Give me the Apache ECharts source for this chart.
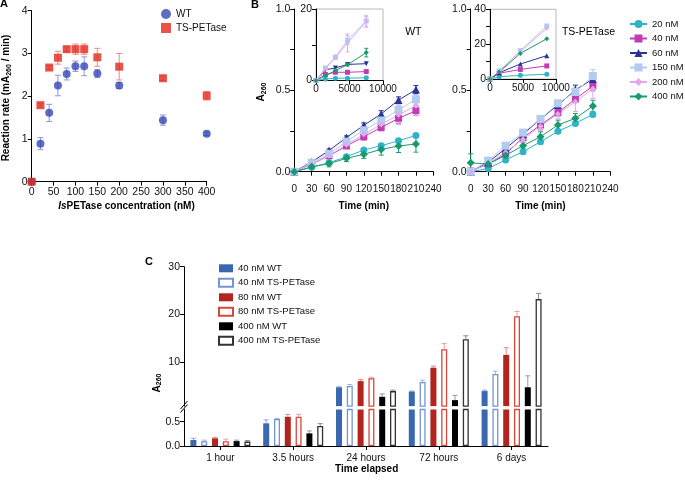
<!DOCTYPE html>
<html><head><meta charset="utf-8">
<script src="https://cdn.jsdelivr.net/npm/echarts@6/dist/echarts.min.js"></script>
<style>html,body{margin:0;padding:0;background:#fff}#c{width:685px;height:485px}</style>
</head><body><div id="c"></div>
<script>
const FONT = "'Liberation Sans', Arial, Helvetica, sans-serif";

// ---------- Panel A data ----------
const concA = [0, 20, 40, 60, 80, 100, 120, 150, 200, 300, 400];
const rateWT = [0, 0.89, 1.61, 2.25, 2.52, 2.70, 2.70, 2.53, 2.25, 1.44, 1.12];
const errWT  = [0, 0.14, 0.20, 0.24, 0.14, 0.12, 0.22, 0.09, 0.07, 0.12, 0.04];
const rateTS = [0, 1.79, 2.67, 2.90, 3.10, 3.10, 3.10, 2.91, 2.69, 2.42, 2.01];
const errTS  = [0, 0.04, 0.04, 0.15, 0.05, 0.12, 0.12, 0.21, 0.31, 0.05, 0.10];

// ---------- Panel B data ----------
const timeB = [0, 30, 60, 90, 120, 150, 180, 210];
const bLabels = ['20 nM', '40 nM', '60 nM', '150 nM', '200 nM', '400 nM'];
const wt20  = [0, 0.027, 0.055, 0.092, 0.133, 0.160, 0.190, 0.223];
const wt40  = [0, 0.047, 0.098, 0.158, 0.215, 0.272, 0.328, 0.375];
const wt60  = [0, 0.060, 0.130, 0.210, 0.285, 0.355, 0.440, 0.505];
const wt150 = [0, 0.055, 0.110, 0.185, 0.255, 0.315, 0.380, 0.445];
const wt200 = [0, 0.048, 0.100, 0.165, 0.230, 0.290, 0.350, 0.405];
const wt400 = [0, 0.030, 0.050, 0.082, 0.107, 0.137, 0.158, 0.170];
const wt20E  = [0, 0, 0, 0.01, 0.01, 0.01, 0.01, 0.01];
const wt40E  = [0, 0, 0.01, 0.015, 0.02, 0.02, 0.03, 0.03];
const wt60E  = [0, 0, 0.01, 0.01, 0.015, 0.02, 0.02, 0.025];
const wt150E = [0, 0, 0, 0.01, 0.02, 0.03, 0.03, 0.03];
const wt200E = [0, 0, 0.01, 0.02, 0.03, 0.04, 0.06, 0.06];
const wt400E = [0, 0.01, 0.02, 0.02, 0.025, 0.035, 0.04, 0.05];
const ts20  = [0, 0.020, 0.072, 0.123, 0.184, 0.248, 0.297, 0.352];
const ts40  = [0.004, 0.047, 0.109, 0.209, 0.287, 0.363, 0.447, 0.527];
const ts60  = [0, 0.057, 0.143, 0.230, 0.324, 0.410, 0.502, 0.570];
const ts150 = [0, 0.068, 0.160, 0.240, 0.324, 0.420, 0.490, 0.588];
const ts200 = [0, 0.050, 0.120, 0.200, 0.280, 0.355, 0.430, 0.510];
const ts400 = [0.055, 0.047, 0.100, 0.160, 0.215, 0.287, 0.328, 0.404];
const ts20E  = [0, 0, 0, 0, 0, 0.01, 0.01, 0.01];
const ts40E  = [0, 0, 0.01, 0.01, 0.03, 0.02, 0.02, 0.03];
const ts60E  = [0, 0, 0, 0.01, 0.01, 0.02, 0.03, 0.03];
const ts150E = [0, 0, 0.01, 0.01, 0.01, 0.02, 0.03, 0.04];
const ts200E = [0, 0, 0.01, 0.02, 0.02, 0.03, 0.06, 0.06];
const ts400E = [0.055, 0, 0.01, 0.02, 0.03, 0.03, 0.03, 0.035];

// insets (time in min, A260)
const insetTimeWT = [0, 1400, 2900, 4700, 7500];
const iw20  = [0, 0.4, 0.65, 0.65, 0.75];
const iw40  = [0, 1.7, 2.3, 2.3, 2.5];
const iw60  = [0, 3.0, 3.5, 4.5, 4.7];
const iw150 = [0, 3.5, 6.6, 11.3, 16.7];
const iw200 = [0, 3.3, 6.4, 10.5, 16.4];
const iw400 = [0, 1.3, 2.8, 4.4, 7.8];
const iw150E = [0, 0, 0.4, 1.2, 1.5];
const iw200E = [0, 0, 0.5, 2.5, 1.5];
const iw400E = [0, 0, 0, 0.3, 1.2];
const insetTimeTS = [0, 1400, 4600, 8600];
const it20  = [0, 1.3, 2.1, 2.7];
const it40  = [0, 3.3, 5.5, 7.5];
const it60  = [0, 3.6, 8.6, 13.4];
const it150 = [0, 4.6, 16.3, 30.4];
const it200 = [0, 4.3, 15.8, 29.0];
const it400 = [0, 4.0, 14.7, 23.1];

// ---------- Panel C data ----------
const timeC = ['1 hour', '3.5 hours', '24 hours', '72 hours', '6 days'];
const cNames = ['40 nM WT', '40 nM TS-PETase', '80 nM WT', '80 nM TS-PETase', '400 nM WT', '400 nM TS-PETase'];
const c40WT  = [0.123, 0.466, 4.7, 3.8, 3.9];
const c40TS  = [0.100, 0.556, 4.97, 5.8, 7.5];
const c80WT  = [0.157, 0.600, 6.0, 8.8, 11.5];
const c80TS  = [0.100, 0.600, 6.6, 12.7, 19.6];
const c400WT = [0.100, 0.260, 2.7, 2.0, 4.7];
const c400TS = [0.090, 0.410, 3.9, 14.8, 23.2];
const c40WTE  = [0.035, 0.07, 0.1, 0.1, 0.2];
const c40TSE  = [0.02, 0.01, 0.3, 0.4, 0.6];
const c80WTE  = [0.02, 0.05, 0.35, 0.35, 1.5];
const c80TSE  = [0.04, 0.05, 0.2, 1.2, 1.0];
const c400WTE = [0.02, 0.05, 0.6, 1.0, 2.4];
const c400TSE = [0.02, 0.05, 0.2, 0.7, 1.2];

// ---------- styles ----------
const C_WT = '#3447b5', C_TS = '#e2291d';
const bColors  = ['#2db4c9', '#c23cb4', '#2b339b', '#b3cbee', '#e3a8ea', '#199a6e'];
const bSymbols = ['circle', 'rect', 'triangle', 'rect', 'diamond', 'diamond'];
const bSizes   = [7, 7, 8, 8, 6, 8];
const cFill   = ['#3a67b0', '#ffffff', '#b3241f', '#ffffff', '#000000', '#ffffff'];
const cBorder = ['#3a67b0', '#7395d3', '#b3241f', '#d9463a', '#000000', '#333333'];
const cErrCol = ['#8fa8d8', '#9fb5e0', '#e08a80', '#eba39a', '#999999', '#888888'];

const axLine = { show: true, lineStyle: { color: '#000', width: 1 } };
const axTick = { show: true, length: 4, inside: false, lineStyle: { color: '#000', width: 1 } };
const lab = (fs, extra) => Object.assign({ color: '#111', fontSize: fs, fontFamily: FONT, margin: 4 }, extra || {});
const plain = v => String(v);

function zip(xs, ys) { return xs.map((x, i) => [x, ys[i]]); }
function zip3(xs, ys, es) { return xs.map((x, i) => [x, ys[i], es[i]]); }

function errSeries(xi, yi, data, color, cap) {
  return {
    type: 'custom', xAxisIndex: xi, yAxisIndex: yi, silent: true, z: 1,
    encode: { x: 0, y: 1 }, data: data,
    renderItem: function (params, api) {
      const x = api.value(0), y = api.value(1), e = api.value(2);
      if (!e) return null;
      const t = api.coord([x, y + e]), b = api.coord([x, y - e]);
      const st = { stroke: color, lineWidth: 1 };
      return { type: 'group', children: [
        { type: 'line', shape: { x1: t[0], y1: t[1], x2: b[0], y2: b[1] }, style: st },
        { type: 'line', shape: { x1: t[0] - cap, y1: t[1], x2: t[0] + cap, y2: t[1] }, style: st },
        { type: 'line', shape: { x1: b[0] - cap, y1: b[1], x2: b[0] + cap, y2: b[1] }, style: st }
      ] };
    }
  };
}

// bar-grouped up-only error bars for panel C
const BAR_W = 6, BAR_PITCH = 10.8;
function cErrSeries(xi, yi, idx, vals, errs, lo, hi) {
  return {
    type: 'custom', xAxisIndex: xi, yAxisIndex: yi, silent: true, z: 1,
    encode: { x: 0, y: 1 }, data: vals.map((v, i) => [i, v, errs[i]]),
    renderItem: function (params, api) {
      const c = api.value(0), v = api.value(1), e = api.value(2);
      if (v < lo || v > hi) return null;
      const off = (idx - 2.5) * BAR_PITCH;
      const b = api.coord([c, v]), t = api.coord([c, Math.min(v + e, hi)]);
      const x = b[0] + off;
      const st = { stroke: cErrCol[idx], lineWidth: 1 };
      return { type: 'group', children: [
        { type: 'line', shape: { x1: x, y1: b[1], x2: x, y2: t[1] }, style: st },
        { type: 'line', shape: { x1: x - 2.5, y1: t[1], x2: x + 2.5, y2: t[1] }, style: st }
      ] };
    }
  };
}

const series = [];
// Panel A
series.push(errSeries(0, 0, zip3(concA, rateWT, errWT), '#8a97d8', 3));
series.push(errSeries(0, 0, zip3(concA, rateTS, errTS), '#ef8a80', 3));
series.push({ type: 'scatter', name: 'WT', xAxisIndex: 0, yAxisIndex: 0, data: zip(concA, rateWT),
  symbol: 'circle', symbolSize: 8, itemStyle: { color: C_WT }, z: 3 });
series.push({ type: 'scatter', name: 'TS-PETase', xAxisIndex: 0, yAxisIndex: 0, data: zip(concA, rateTS),
  symbol: 'rect', symbolSize: 8, itemStyle: { color: C_TS }, z: 3 });

// Panel B main
const wtMain = [wt20, wt40, wt60, wt150, wt200, wt400];
const wtErr = [wt20E, wt40E, wt60E, wt150E, wt200E, wt400E];
const tsMain = [ts20, ts40, ts60, ts150, ts200, ts400];
const tsErr = [ts20E, ts40E, ts60E, ts150E, ts200E, ts400E];
const wtIn = [iw20, iw40, iw60, iw150, iw200, iw400];
const tsIn = [it20, it40, it60, it150, it200, it400];
const order = [0, 5, 1, 4, 3, 2];
function lineSeries(name, xi, yi, xs, ys, k, size, rot) {
  return { type: 'line', name: name, xAxisIndex: xi, yAxisIndex: yi, data: zip(xs, ys),
    symbol: bSymbols[k], symbolSize: size, symbolRotate: rot || 0, showSymbol: true,
    lineStyle: { color: bColors[k], width: 1 }, itemStyle: { color: bColors[k] }, z: 3 };
}
for (let k = 0; k < 6; k++) {
  series.push(lineSeries(bLabels[k], 1, 1, timeB, wtMain[k], k, bSizes[k]));
}
order.forEach(k => {
  series.push(errSeries(1, 1, zip3(timeB, wtMain[k], wtErr[k]), bColors[k], 2.5));
  series.push(errSeries(3, 3, zip3(timeB, tsMain[k], tsErr[k]), bColors[k], 2.5));
});
for (let k = 0; k < 6; k++) {
  series.push(lineSeries(bLabels[k], 3, 3, timeB, tsMain[k], k, bSizes[k]));
}
// insets
series.push(errSeries(2, 2, zip3(insetTimeWT, iw150, iw150E), bColors[3], 2));
series.push(errSeries(2, 2, zip3(insetTimeWT, iw200, iw200E), bColors[4], 2));
series.push(errSeries(2, 2, zip3(insetTimeWT, iw400, iw400E), bColors[5], 2));
for (let k = 0; k < 6; k++) {
  series.push(lineSeries(bLabels[k], 2, 2, insetTimeWT, wtIn[k], k, k === 4 ? 4 : 5, k === 2 ? 180 : 0));
  series.push(lineSeries(bLabels[k], 4, 4, insetTimeTS, tsIn[k], k, k === 4 ? 4 : 5));
}

// Panel C
const cVals = [c40WT, c40TS, c80WT, c80TS, c400WT, c400TS];
const cErrs = [c40WTE, c40TSE, c80WTE, c80TSE, c400WTE, c400TSE];
for (let i = 0; i < 6; i++) {
  const st = (i % 2 === 0) ? { color: cFill[i] } : { color: '#fff', borderColor: cBorder[i], borderWidth: 1.3 };
  series.push({ type: 'bar', name: cNames[i], xAxisIndex: 5, yAxisIndex: 5, data: cVals[i],
    barWidth: BAR_W, barGap: '80%', itemStyle: st, clip: true, z: 2 });
  series.push({ type: 'bar', name: cNames[i], xAxisIndex: 6, yAxisIndex: 6, data: cVals[i],
    barWidth: BAR_W, barGap: '80%', itemStyle: st, clip: true, z: 2 });
}
for (let i = 0; i < 6; i++) {
  series.push(cErrSeries(5, 5, i, cVals[i], cErrs[i], 0.75, 30));
  series.push(cErrSeries(6, 6, i, cVals[i], cErrs[i], 0, 0.75));
}

const bYfmt = v => (Math.round(v * 4) % 2 === 0 ? v.toFixed(1) : '');

const richSub = {
  b: { fontSize: 10, fontWeight: 'bold', lineHeight: 12, fontFamily: FONT, fill: '#000' },
  s: { fontSize: 7, fontWeight: 'bold', lineHeight: 7, padding: [5, 0, 0, 0], fontFamily: FONT, fill: '#000' },
  i: { fontSize: 10, fontWeight: 'bold', fontStyle: 'italic', lineHeight: 12, fontFamily: FONT, fill: '#000' }
};
function gtext(x, y, text, opts) {
  return Object.assign({ type: 'text', x: x, y: y, style: Object.assign({ text: text, fontFamily: FONT, fontSize: 10, fill: '#000',
    align: 'center', verticalAlign: 'middle', rich: richSub }, (opts && opts.style) || {}) }, (opts && opts.el) || {});
}

const option = {
  animation: false,
  backgroundColor: '#fff',
  textStyle: { fontFamily: FONT },
  grid: [
    { left: 31.7, top: 10.7, width: 175, height: 171 },
    { left: 294.3, top: 9, width: 139, height: 162.7 },
    { left: 316, top: 9, width: 67, height: 71.5, show: true, borderColor: '#b8b8b8', borderWidth: 1, backgroundColor: '#fff' },
    { left: 470.7, top: 9, width: 139.6, height: 162.7 },
    { left: 490, top: 9.3, width: 66, height: 69.7, show: true, borderColor: '#b8b8b8', borderWidth: 1, backgroundColor: '#fff' },
    { left: 184, top: 266.7, width: 364, height: 139.4 },
    { left: 184, top: 409.5, width: 364, height: 36.5 }
  ],
  xAxis: [
    { gridIndex: 0, type: 'value', min: 0, max: 400, interval: 50, axisLine: axLine, axisTick: axTick, axisLabel: lab(10.5, { margin: 5, formatter: plain }), splitLine: { show: false } },
    { gridIndex: 1, type: 'value', min: 0, max: 240, interval: 30, offset: 8, axisLine: axLine, axisTick: axTick, axisLabel: lab(10, { margin: 5, formatter: plain }), splitLine: { show: false } },
    { gridIndex: 2, type: 'value', min: 0, max: 10000, interval: 5000, axisLine: axLine, axisTick: axTick, axisLabel: lab(10, { margin: 4, formatter: plain }), splitLine: { show: false } },
    { gridIndex: 3, type: 'value', min: 0, max: 240, interval: 30, offset: 8, axisLine: axLine, axisTick: axTick, axisLabel: lab(10, { margin: 5, formatter: plain }), splitLine: { show: false } },
    { gridIndex: 4, type: 'value', min: 0, max: 10000, interval: 5000, axisLine: axLine, axisTick: axTick, axisLabel: lab(10, { margin: 4, formatter: plain }), splitLine: { show: false } },
    { gridIndex: 5, type: 'category', data: timeC, show: false },
    { gridIndex: 6, type: 'category', data: timeC, axisLine: axLine, axisTick: Object.assign({ alignWithLabel: true }, axTick), axisLabel: lab(10, { margin: 7 }) }
  ],
  yAxis: [
    { gridIndex: 0, type: 'value', min: 0, max: 4, interval: 1, axisLine: axLine, axisTick: axTick, axisLabel: lab(10.5), splitLine: { show: false } },
    { gridIndex: 1, type: 'value', min: 0, max: 1, interval: 0.25, axisLine: axLine, axisTick: axTick, axisLabel: lab(10.5, { formatter: bYfmt }), splitLine: { show: false } },
    { gridIndex: 2, type: 'value', min: 0, max: 20, interval: 10, axisLine: axLine, axisTick: axTick, axisLabel: lab(10.5, { formatter: v => (v % 20 === 0 ? String(v) : '') }), splitLine: { show: false } },
    { gridIndex: 3, type: 'value', min: 0, max: 1, interval: 0.25, axisLine: axLine, axisTick: axTick, axisLabel: lab(10.5, { formatter: bYfmt }), splitLine: { show: false } },
    { gridIndex: 4, type: 'value', min: 0, max: 40, interval: 10, axisLine: axLine, axisTick: axTick, axisLabel: lab(10.5, { formatter: v => (v % 20 === 0 ? String(v) : '') }), splitLine: { show: false } },
    { gridIndex: 5, type: 'value', min: 0.75, max: 30, axisLine: axLine,
      axisTick: Object.assign({ customValues: [10, 20, 30] }, axTick),
      axisLabel: lab(10.5, { customValues: [10, 20, 30] }), splitLine: { show: false } },
    { gridIndex: 6, type: 'value', min: 0, max: 0.75, axisLine: axLine,
      axisTick: Object.assign({ customValues: [0, 0.5] }, axTick),
      axisLabel: lab(10.5, { customValues: [0, 0.5], formatter: v => v.toFixed(1) }), splitLine: { show: false } }
  ],
  legend: [
    { data: ['WT', 'TS-PETase'], orient: 'vertical', left: 161, top: 9, padding: 0, itemWidth: 10, itemHeight: 10, itemGap: 4,
      textStyle: { fontSize: 10, fontFamily: FONT, color: '#111' }, selectedMode: false },
    { data: bLabels, orient: 'vertical', left: 629, top: 19, padding: 0, itemWidth: 17, itemHeight: 10, itemGap: 4.5, itemTextGap: 4,
      textStyle: { fontSize: 9.5, fontFamily: FONT, color: '#111' }, selectedMode: false },
    { data: cNames, orient: 'vertical', left: 218, top: 263.3, padding: 0, itemWidth: 14, itemHeight: 8, itemGap: 4.5, icon: 'rect',
      textStyle: { fontSize: 9.5, fontFamily: FONT, color: '#111' }, selectedMode: false }
  ],
  graphic: [
    gtext(4, 4, 'A', { style: { fontWeight: 'bold', fontSize: 11 } }),
    gtext(255, 5, 'B', { style: { fontWeight: 'bold', fontSize: 11 } }),
    gtext(149, 262, 'C', { style: { fontWeight: 'bold', fontSize: 11 } }),
    gtext(6.5, 98, '{b|Reaction rate (mA}{s|260}{b| / min)}', { el: { rotation: Math.PI / 2 } }),
    gtext(126.5, 206.7, '{i|Is}{b|PETase concentration (nM)}'),
    gtext(261.7, 92, '{b|A}{s|260}', { el: { rotation: Math.PI / 2 } }),
    gtext(363.8, 206.5, '{b|Time (min)}'),
    gtext(540.5, 206.5, '{b|Time (min)}'),
    gtext(413.3, 31.7, 'WT', { style: { fontSize: 10.5 } }),
    gtext(588.5, 31.7, 'TS-PETase', { style: { fontSize: 10.5 } }),
    gtext(157, 383, '{b|A}{s|260}', { el: { rotation: Math.PI / 2 } }),
    gtext(366.7, 469, '{b|Time elapsed}'),
    { type: 'line', shape: { x1: 180.5, y1: 409, x2: 187.5, y2: 401 }, style: { stroke: '#000', lineWidth: 1 } },
    { type: 'line', shape: { x1: 180.5, y1: 412.5, x2: 187.5, y2: 404.5 }, style: { stroke: '#000', lineWidth: 1 } }
  ],
  series: series
};

const chart = echarts.init(document.getElementById('c'), null, { renderer: 'canvas' });
chart.setOption(option);
</script></body></html>
